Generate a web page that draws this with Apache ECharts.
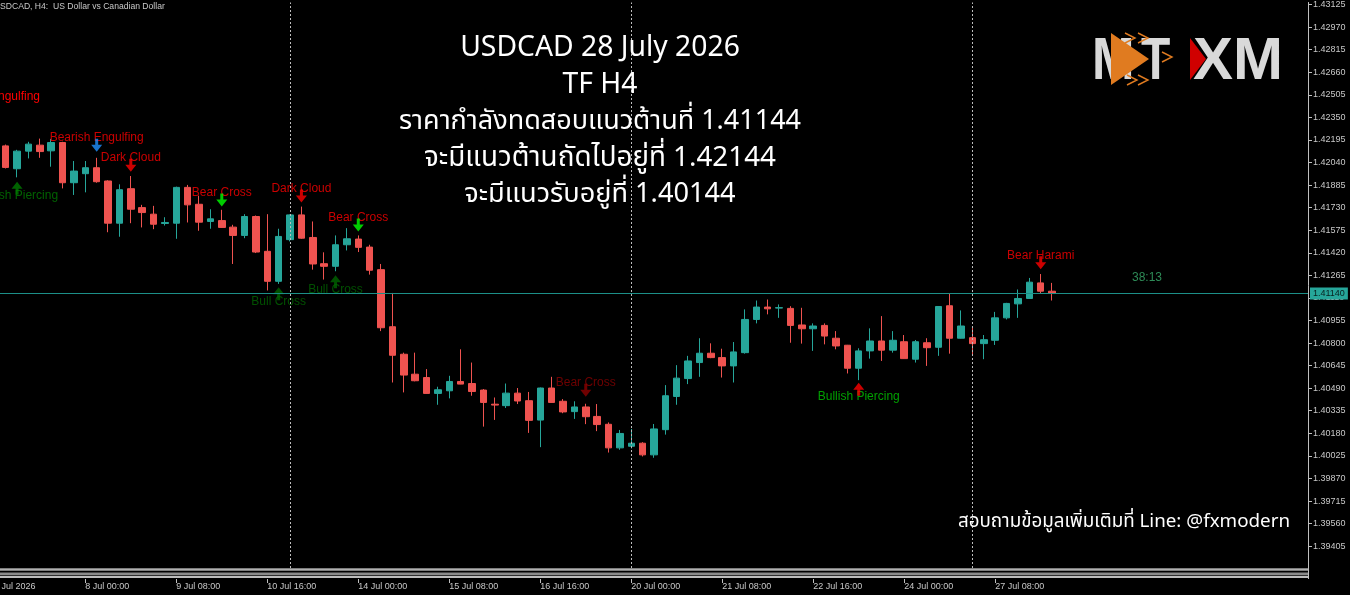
<!DOCTYPE html>
<html><head><meta charset="utf-8">
<script src="https://cdn.jsdelivr.net/npm/echarts@6/dist/echarts.min.js"></script>
<style>html,body{margin:0;padding:0;background:#000;}#c{width:1350px;height:595px;}</style>
</head><body><div id="c"></div>
<script>
// ---- data ----
const tradingDays = ['6 Jul','7 Jul','8 Jul','9 Jul','10 Jul','13 Jul','14 Jul','15 Jul','16 Jul','17 Jul','20 Jul','21 Jul','22 Jul','23 Jul','24 Jul','27 Jul','28 Jul','29 Jul','30 Jul','31 Jul'];
const barHours = ['00:00','04:00','08:00','12:00','16:00','20:00'];
const firstBar = '6 Jul 20:00';
const slotCount = 115;
const tickLabels = ['8 Jul 00:00','9 Jul 08:00','10 Jul 16:00','14 Jul 00:00','15 Jul 08:00','16 Jul 16:00','20 Jul 00:00','21 Jul 08:00','22 Jul 16:00','24 Jul 00:00','27 Jul 08:00'];
const weekStarts = ['13 Jul 00:00','20 Jul 00:00','27 Jul 00:00'];
const priceTicks = [1.43125,1.42970,1.42815,1.42660,1.42505,1.42350,1.42195,1.42040,1.41885,1.41730,1.41575,1.41420,1.41265,1.41110,1.40955,1.40800,1.40645,1.40490,1.40335,1.40180,1.40025,1.39870,1.39715,1.39560,1.39405];
const currentPrice = 1.41140;

const opens = [1.42154,1.41997,1.42118,1.42159,1.42120,1.42177,1.41901,1.41963,1.42004,1.41913,
1.41623,1.41860,1.41730,1.41685,1.41621,1.41623,1.41869,1.41753,1.41635,1.41641,
1.41596,1.41539,1.41669,1.41430,1.41224,1.41510,1.41680,1.41525,1.41345,1.41327,
1.41475,1.41514,1.41459,1.41304,1.40912,1.40723,1.40586,1.40563,1.40454,1.40472,
1.40536,1.40522,1.40477,1.40380,1.40370,1.40456,1.40404,1.40271,1.40491,1.40400,
1.40329,1.40361,1.40296,1.40242,1.40080,1.40091,1.40112,1.40032,1.40205,1.40433,
1.40556,1.40666,1.40730,1.40700,1.40643,1.40734,1.40962,1.41047,1.41040,1.41038,
1.40924,1.40898,1.40921,1.40833,1.40785,1.40627,1.40746,1.40814,1.40751,1.40809,
1.40689,1.40802,1.40771,1.41056,1.40833,1.40837,1.40796,1.40819,1.40973,1.41069,
1.41106,1.41213,1.41156];
const closes = [1.42006,1.42118,1.42166,1.42115,1.42177,1.41901,1.41981,1.42004,1.41908,1.41623,
1.41853,1.41719,1.41696,1.41616,1.41628,1.41869,1.41749,1.41630,1.41653,1.41594,
1.41539,1.41669,1.41425,1.41224,1.41532,1.41680,1.41520,1.41343,1.41327,1.41475,
1.41516,1.41457,1.41300,1.40905,1.40716,1.40580,1.40541,1.40454,1.40479,1.40536,
1.40518,1.40467,1.40392,1.40374,1.40456,1.40402,1.40269,1.40491,1.40392,1.40327,
1.40361,1.40294,1.40240,1.40080,1.40179,1.40112,1.40032,1.40210,1.40438,1.40559,
1.40677,1.40730,1.40700,1.40643,1.40739,1.40962,1.41047,1.41035,1.41043,1.40921,
1.40898,1.40917,1.40848,1.40780,1.40627,1.40746,1.40814,1.40751,1.40819,1.40693,
1.40809,1.40768,1.41051,1.40833,1.40917,1.40796,1.40823,1.40973,1.41072,1.41106,
1.41218,1.41156,1.41140];
const lows = [1.41999,1.41938,1.42068,1.42072,1.42011,1.41862,1.41817,1.41835,1.41901,1.41561,
1.41530,1.41623,1.41594,1.41582,1.41607,1.41516,1.41628,1.41571,1.41585,1.41590,
1.41343,1.41520,1.41418,1.41161,1.41206,1.41498,1.41516,1.41304,1.41236,1.41293,
1.41436,1.41425,1.41270,1.40882,1.40529,1.40461,1.40537,1.40452,1.40376,1.40420,
1.40517,1.40438,1.40226,1.40272,1.40354,1.40381,1.40183,1.40085,1.40390,1.40318,
1.40279,1.40243,1.40195,1.40048,1.40067,1.40076,1.40021,1.40012,1.40171,1.40376,
1.40518,1.40568,1.40696,1.40563,1.40529,1.40727,1.40935,1.40997,1.40973,1.40802,
1.40796,1.40746,1.40791,1.40757,1.40591,1.40545,1.40693,1.40677,1.40734,1.40691,
1.40666,1.40643,1.40712,1.40727,1.40831,1.40718,1.40689,1.40787,1.40962,1.40973,
1.41105,1.41140,1.41092];
const highs = [1.42163,1.42127,1.42182,1.42204,1.42202,1.42182,1.42050,1.42050,1.42072,1.41918,
1.41890,1.41947,1.41749,1.41742,1.41664,1.41874,1.41886,1.41812,1.41719,1.41715,
1.41612,1.41685,1.41676,1.41685,1.41585,1.41683,1.41737,1.41635,1.41423,1.41539,
1.41589,1.41539,1.41475,1.41343,1.41144,1.40734,1.40734,1.40621,1.40500,1.40575,
1.40757,1.40666,1.40484,1.40426,1.40522,1.40491,1.40464,1.40494,1.40568,1.40415,
1.40400,1.40383,1.40381,1.40255,1.40203,1.40210,1.40119,1.40244,1.40511,1.40648,
1.40712,1.40833,1.40798,1.40761,1.40807,1.41031,1.41092,1.41099,1.41065,1.41053,
1.41042,1.40935,1.40935,1.40882,1.40787,1.40764,1.40901,1.40985,1.40882,1.40855,
1.40821,1.40833,1.41053,1.41138,1.41024,1.40905,1.40855,1.41014,1.41076,1.41168,
1.41247,1.41274,1.41213];

// pattern annotations (parallel arrays)
const noteText  = ['Bullish Piercing','Bearish Engulfing','Dark Cloud','Bear Cross','Bull Cross','Dark Cloud','Bull Cross','Bear Cross','Bear Cross','Bullish Piercing','Bear Harami'];
const noteBar   = [1, 8, 11, 19, 24, 26, 29, 31, 51, 75, 91];
const notePrice = [1.41908,1.42113,1.41977,1.41737,1.41183,1.41765,1.41265,1.41566,1.40431,1.40527,1.41306];
const noteDir   = ['up','down','down','down','up','down','up','down','down','up','down'];
const noteTextColor  = ['#007a00','#ff0000','#ff0000','#ff0000','#006400','#ff0000','#006400','#ff0000','#8b0000','#00c800','#ff0000'];
const noteArrowColor = ['#007a00','#1e90ff','#ff0000','#00ff00','#006400','#ff0000','#006400','#00ff00','#8b0000','#ff0000','#ff0000'];

const titleLines = ['USDCAD 28 July 2026','TF H4','ราคากำลังทดสอบแนวต้านที่ 1.41144','จะมีแนวต้านถัดไปอยู่ที่ 1.42144','จะมีแนวรับอยู่ที่ 1.40144'];

// ---- build ----
const categories = [];
(function(){
  let started = false;
  for (const d of tradingDays) for (const h of barHours) {
    const lbl = d + ' ' + h;
    if (lbl === firstBar) started = true;
    if (started && categories.length < slotCount) categories.push(lbl);
  }
})();
const candleData = opens.map((o,i)=>[o, closes[i], lows[i], highs[i]]);

const DOWN = 'path://M4,0 L7,0 L7,6 L11,6 L5.5,13 L0,6 L4,6 Z';
const UP = 'path://M5.5,0 L11,7 L7,7 L7,13 L4,13 L4,7 L0,7 Z';
const arrowData = noteBar.map((b,i)=>({
  value:[b, notePrice[i]],
  symbol: noteDir[i]==='down'?DOWN:UP,
  symbolSize:[11,13],
  symbolOffset:[0, noteDir[i]==='down'?-6.5:6.5],
  itemStyle:{color: noteArrowColor[i]}
}));
const textData = noteBar.map((b,i)=>({
  value:[b, notePrice[i]],
  label:{show:true, position:'inside', formatter: noteText[i], color: noteTextColor[i],
         offset:[0, noteDir[i]==='down'?-14:14]}
}));

const FONT = 'Liberation Sans, Arial, sans-serif';
const THAI = '"Noto Sans Thai", "Noto Sans", "DejaVu Sans", sans-serif';
const isTick = (idx, val) => tickLabels.indexOf(val) >= 0;

const sepLine = {type:[2,2], color:'#bdbdbd', width:1};
const markData = [
  {yAxis: currentPrice, lineStyle:{color:'#1c8f88', width:1, type:'solid'},
   label:{show:true, position:'end', formatter: currentPrice.toFixed(5), backgroundColor:'#26a69a',
          color:'#08201e', fontSize:9, fontFamily:FONT, padding:[2,3,1,3], distance:2}}
].concat(weekStarts.map(w=>({xAxis: w, lineStyle: sepLine, label:{show:false}})));

const graphics = [];
// bottom strip
graphics.push({type:'rect', shape:{x:0,y:568,width:1308,height:3}, style:{fill:'#7d7d7d'}, silent:true});
graphics.push({type:'rect', shape:{x:0,y:569,width:1308,height:1}, style:{fill:'#b0b0b0'}, silent:true});
graphics.push({type:'rect', shape:{x:0,y:572.5,width:1308,height:2.5}, style:{fill:'#8a8a8a'}, silent:true});
graphics.push({type:'rect', shape:{x:0,y:575.7,width:1308,height:2.3}, style:{fill:'#bdbdbd'}, silent:true});
graphics.push({type:'line', shape:{x1:1308.5,y1:567,x2:1308.5,y2:579}, style:{stroke:'#c0c0c0', lineWidth:1}, silent:true});
// header
graphics.push({type:'text', x:-6.2, y:7, style:{text:'USDCAD, H4:  US Dollar vs Canadian Dollar', fill:'#c8c8c8', font:'8.6px '+FONT, textVerticalAlign:'middle'}, silent:true});
// cut-off annotation at far left
graphics.push({type:'text', x:40, y:97, style:{text:'Bearish Engulfing', fill:'#ff0000', font:'12px '+FONT, textAlign:'right', textVerticalAlign:'middle'}, silent:true});
// first date label
graphics.push({type:'text', x:-6, y:582, style:{text:'6 Jul 2026', fill:'#c8c8c8', font:'9px '+FONT, textVerticalAlign:'top'}, silent:true});
// countdown
graphics.push({type:'text', x:1132, y:278, style:{text:'38:13', fill:'#2e8b57', font:'12px '+FONT, textVerticalAlign:'middle'}, silent:true});
// title
const titleY = [50, 87, 124, 160, 197];
const titleSize = [28.3, 28.3, 27, 27.8, 27.2];
titleLines.forEach((t,i)=>graphics.push({type:'text', x:600, y:titleY[i], style:{text:t, fill:'#ffffff', font:titleSize[i]+'px '+THAI, textAlign:'center', textVerticalAlign:'middle'}, silent:true, z:50}));
// contact
graphics.push({type:'text', x:1290, y:523, style:{text:'สอบถามข้อมูลเพิ่มเติมที่ Line: @fxmodern', fill:'#ffffff', font:'18.8px '+THAI, textAlign:'right', textVerticalAlign:'middle'}, silent:true, z:50});
// logo
graphics.push({type:'text', x:1092, y:62, scaleX:0.85, style:{text:'M', fill:'#d9d9d9', font:'bold 60px '+FONT, textVerticalAlign:'middle'}, silent:true, z:50});
graphics.push({type:'polygon', shape:{points:[[1111,33],[1149,59],[1111,85]]}, style:{fill:'#e07b20'}, silent:true, z:51});
graphics.push({type:'text', x:1141, y:62, scaleX:0.8, style:{text:'T', fill:'#d9d9d9', font:'bold 60px '+FONT, textVerticalAlign:'middle'}, silent:true, z:52});
[[1125,33],[1138,33],[1162,52],[1127,75],[1138,75]].forEach(p=>graphics.push({type:'polyline', shape:{points:[[p[0],p[1]],[p[0]+10,p[1]+5],[p[0],p[1]+10]]}, style:{stroke:'#e07b20', lineWidth:1.4, fill:null}, silent:true, z:53}));
graphics.push({type:'text', x:1193, y:62, style:{text:'XM', fill:'#d9d9d9', font:'bold 60px '+FONT, textVerticalAlign:'middle'}, silent:true, z:50});
graphics.push({type:'polygon', shape:{points:[[1190,38],[1206,59],[1190,80]]}, style:{fill:'#d00000'}, silent:true, z:51});

const chart = echarts.init(document.getElementById('c'), null, {renderer:'canvas'});
chart.setOption({
  backgroundColor:'#000000',
  animation:false,
  grid:{left:0, right:42, top:0, bottom:27, containLabel:false},
  xAxis:{type:'category', data:categories, boundaryGap:true, offset:11,
    axisLine:{show:false},
    axisTick:{show:true, alignWithLabel:true, interval:isTick, length:4, lineStyle:{color:'#c0c0c0'}},
    axisLabel:{interval:isTick, align:'left', margin:3, color:'#c8c8c8', fontSize:9, fontFamily:FONT},
    splitLine:{show:false}},
  yAxis:{type:'value', position:'right', min:1.39255, max:1.43139, scale:true,
    axisLine:{show:true, lineStyle:{color:'#c0c0c0'}},
    axisTick:{show:true, customValues:priceTicks, length:4, lineStyle:{color:'#c0c0c0'}},
    axisLabel:{customValues:priceTicks, formatter:v=>Number(v).toFixed(5), color:'#c8c8c8', fontSize:9, fontFamily:FONT, margin:5},
    splitLine:{show:false}},
  series:[
    {type:'candlestick', data:candleData, barWidth:7, z:2,
     itemStyle:{color:'#26a69a', color0:'#ef5350', borderColor:'#26a69a', borderColor0:'#ef5350', borderWidth:1}},
    {type:'scatter', data:textData, symbol:'circle', symbolSize:1, z:3, itemStyle:{color:'rgba(0,0,0,0)'},
     label:{fontSize:12, fontFamily:FONT}, silent:true,
     markLine:{symbol:['none','none'], precision:5, silent:true, animation:false, data:markData}},
    {type:'scatter', data:arrowData, z:4, silent:true}
  ],
  graphic: graphics
});
</script></body></html>
